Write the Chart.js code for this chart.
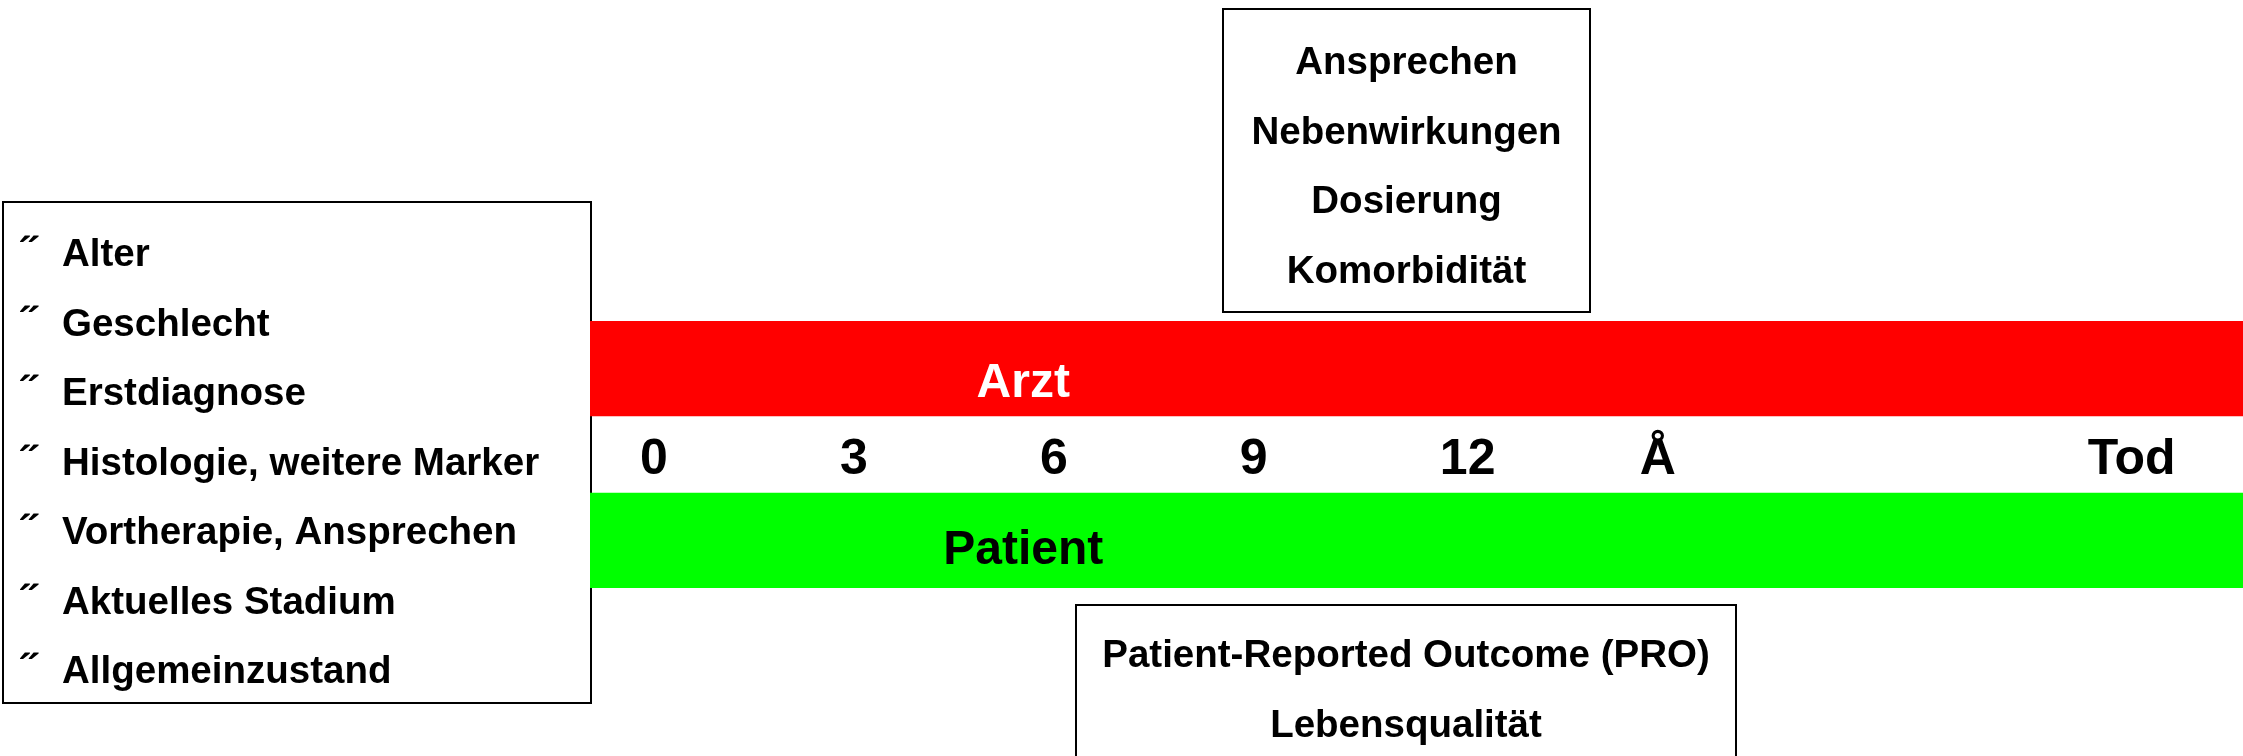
<!DOCTYPE html>
<html>
<head>
<meta charset="utf-8">
<script src="https://cdn.jsdelivr.net/npm/chart.js@4.4.1/dist/chart.umd.min.js"></script>
<style>
  html, body { margin: 0; padding: 0; background: #ffffff; overflow: hidden; }
  #wrap { width: 2243px; height: 756px; position: relative; }
  canvas { display: block; }
</style>
</head>
<body>
<div id="wrap"><canvas id="c" width="2243" height="756"></canvas></div>
<script>
// ---------------- data ----------------
const timeTickValues = [0, 3, 6, 9, 12, 15, 21.72];
const timeTickLabels = ['0', '3', '6', '9', '12', 'Å', 'Tod'];
const bandLabels = ['Arzt', 'Patient'];
const bandRows = [0, 1];
const bandStart = [-0.75, -0.75];
const bandEnd = [24.05, 24.05];
const bandCaptionAt = 5.75;
const baselineFactors = ['Alter', 'Geschlecht', 'Erstdiagnose', 'Histologie, weitere Marker',
  'Vortherapie, Ansprechen', 'Aktuelles Stadium', 'Allgemeinzustand'];
const doctorFactors = ['Ansprechen', 'Nebenwirkungen', 'Dosierung', 'Komorbidität'];
const patientFactors = ['Patient-Reported Outcome (PRO)', 'Lebensqualität'];

// ---------------- style / layout ----------------
const FONT = '"Liberation Sans", Arial, Helvetica, sans-serif';
const bandColors = ['#ff0000', '#00ff00'];
const bandCaptionColors = ['#ffffff', '#000000'];
const bandCaptionOffsets = [28, 24];
const boxFont = 'bold 38.5px ' + FONT;
const bulletFont = 'bold 44px ' + FONT;
const captionFont = 'bold 48px ' + FONT;
const lineStep = 69.5;
const boxes = {
  left:   { x: 3,    y: 202, w: 588, h: 501, bulletX: 22, textX: 62, firstBaseline: 266 },
  top:    { x: 1223, y: 9,   w: 367, h: 303, firstBaseline: 74, step: 69.7 },
  bottom: { x: 1076, y: 605, w: 660, h: 200, firstBaseline: 667, step: 70 }
};

const textBoxesPlugin = {
  id: 'textBoxes',
  beforeDatasetsDraw(chart) {
    const ctx = chart.ctx;
    ctx.save();
    ctx.lineWidth = 2;
    ctx.strokeStyle = '#000000';
    ctx.fillStyle = '#000000';
    ctx.textBaseline = 'alphabetic';

    // left box: baseline factors
    const L = boxes.left;
    ctx.strokeRect(L.x, L.y, L.w, L.h);
    ctx.textAlign = 'left';
    baselineFactors.forEach((t, i) => {
      const by = L.firstBaseline + i * lineStep;
      ctx.font = bulletFont;
      ctx.fillText('\u02DD', L.bulletX, by + 2);
      ctx.font = boxFont;
      ctx.fillText(t, L.textX, by);
    });

    ctx.font = boxFont;
    // top box: doctor factors
    const T = boxes.top;
    ctx.strokeRect(T.x, T.y, T.w, T.h);
    ctx.textAlign = 'center';
    doctorFactors.forEach((t, i) => {
      ctx.fillText(t, T.x + T.w / 2, T.firstBaseline + i * T.step);
    });

    // bottom box: patient factors
    const B = boxes.bottom;
    ctx.strokeRect(B.x, B.y, B.w, B.h);
    patientFactors.forEach((t, i) => {
      ctx.fillText(t, B.x + B.w / 2, B.firstBaseline + i * B.step);
    });
    ctx.restore();
  },
  afterDatasetsDraw(chart) {
    const ctx = chart.ctx;
    const xs = chart.scales.x, ys = chart.scales.y;
    ctx.save();
    ctx.font = captionFont;
    ctx.textAlign = 'center';
    ctx.textBaseline = 'alphabetic';
    bandLabels.forEach((t, i) => {
      ctx.fillStyle = bandCaptionColors[i];
      ctx.fillText(t, xs.getPixelForValue(bandCaptionAt), ys.getPixelForValue(bandRows[i]) + bandCaptionOffsets[i]);
    });
    ctx.restore();
  }
};

new Chart(document.getElementById('c').getContext('2d'), {
  type: 'bar',
  data: {
    labels: bandLabels,
    datasets: [{
      label: 'Perspektive',
      data: bandRows.map((r, i) => ({ x: [bandStart[i], bandEnd[i]], y: r })),
      backgroundColor: bandColors,
      borderWidth: 0,
      borderSkipped: false,
      barThickness: 95
    }]
  },
  options: {
    indexAxis: 'y',
    responsive: false,
    animation: false,
    devicePixelRatio: 1,
    layout: { padding: { left: 590, top: 321, right: 0, bottom: 168 } },
    plugins: { legend: { display: false }, tooltip: { enabled: false } },
    scales: {
      x: {
        type: 'linear',
        min: bandStart[0],
        max: bandEnd[0],
        offset: false,
        position: { y: 0.5 },
        afterBuildTicks: (s) => { s.ticks = timeTickValues.map(v => ({ value: v })); },
        afterFit: (s) => { s.height = 0; },
        grid: { display: false, drawTicks: false, offset: false },
        border: { display: false },
        ticks: {
          align: 'start',
          crossAlign: 'center',
          padding: 6,
          autoSkip: false,
          maxRotation: 0,
          minRotation: 0,
          color: '#000000',
          font: { family: FONT, size: 50, weight: 'bold', lineHeight: 1 },
          callback: (v, i) => timeTickLabels[i]
        }
      },
      y: {
        type: 'linear',
        min: -0.2762,
        max: 1.2762,
        reverse: true,
        offset: false,
        grid: { offset: false },
        display: false
      }
    }
  },
  plugins: [textBoxesPlugin]
});
</script>
</body>
</html>
